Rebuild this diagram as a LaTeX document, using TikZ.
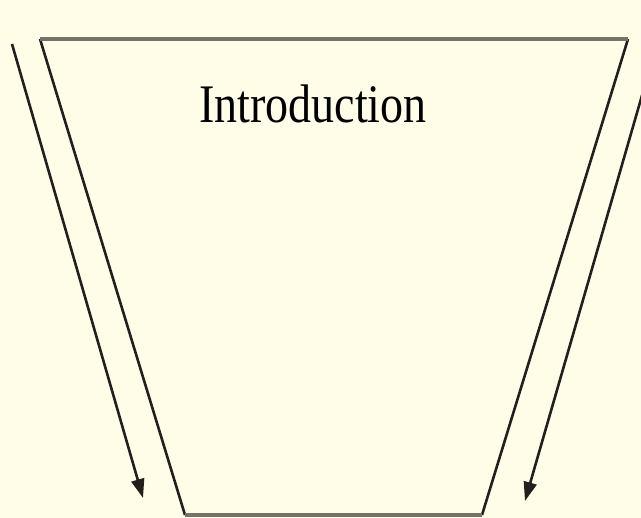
\documentclass[tikz,border=0pt]{standalone}
\usepackage{fontspec}
\setmainfont{Liberation Serif}
\usepackage{graphicx}
\usepackage{xcolor}
\definecolor{cPaper}{HTML}{FFFDE8}
\definecolor{cLine}{HTML}{231F1C}
\definecolor{cEdge}{HTML}{77716A}
\usepackage{tikz}
\usetikzlibrary{arrows.meta}
\tikzset{
  funnel-side/.style={draw=cLine,line width=2.6pt},
  funnel-edge/.style={draw=cEdge,line width=4pt},
  flow-arrow/.style={-{Triangle[length=19pt,width=13pt]},line width=2.6pt,draw=cLine},
  funnel-label/.style={font=\fontsize{46}{50}\selectfont,text=black,anchor=base},
}
\begin{document}
\begin{tikzpicture}[x=1pt,y=-1pt]
  \fill[cPaper] (0,0) rectangle (641,518);
  \useasboundingbox (0,0) rectangle (641,518);
  \coordinate (top-l) at (40,39);
  \coordinate (top-r) at (628,39);
  \coordinate (bot-l) at (185,515);
  \coordinate (bot-r) at (482,515);
  \draw[funnel-side] (top-l) -- (bot-l);
  \draw[funnel-side] (top-r) -- (bot-r);
  \draw[funnel-edge] (top-l) -- (top-r);
  \draw[funnel-edge] (bot-l) -- (bot-r);
  \node[funnel-label] (intro) at (313,123) {\scalebox{1}[1.18]{Introduction}};
  \coordinate (in-l) at (12,44);
  \coordinate (out-l) at (143,498);
  \coordinate (in-r) at (643,92);
  \coordinate (out-r) at (525,501);
  \draw[flow-arrow] (in-l) -- (out-l);
  \draw[flow-arrow] (in-r) -- (out-r);
\end{tikzpicture}
\end{document}
